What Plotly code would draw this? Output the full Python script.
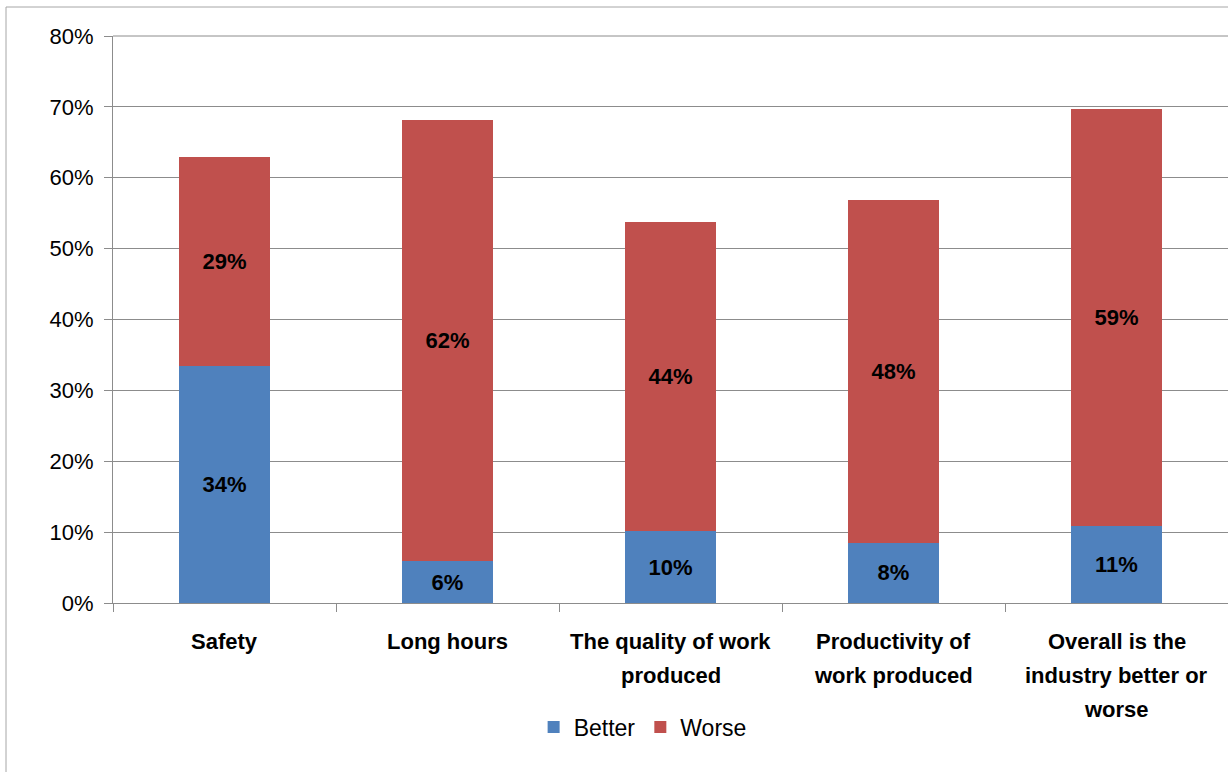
import plotly.graph_objects as go

categories = ["Safety", "Long hours", "The quality of work produced",
              "Productivity of work produced", "Overall is the industry better or worse"]
label_lines = [["Safety"], ["Long hours"], ["The quality of work", "produced"],
               ["Productivity of", "work produced"], ["Overall is the", "industry better or", "worse"]]
better = [33.5, 5.9, 10.1, 8.5, 10.9]
worse = [29.4, 62.2, 43.6, 48.3, 58.8]
better_labels = ["34%", "6%", "10%", "8%", "11%"]
worse_labels = ["29%", "62%", "44%", "48%", "59%"]
y_ticks = [0, 10, 20, 30, 40, 50, 60, 70, 80]
y_tick_text = [f"{v}%\u00a0" for v in y_ticks]

BLUE = "#4F81BD"
RED = "#C0504D"
FONT = "Liberation Sans, Arial, sans-serif"
GRID = "#8C8C8C"

fig = go.Figure()
for name, vals, labels, color in [("Better", better, better_labels, BLUE),
                                  ("Worse", worse, worse_labels, RED)]:
    fig.add_trace(go.Bar(name=name, x=categories, y=vals, text=labels,
                         marker_color=color, marker_line_width=0,
                         textposition="inside", insidetextanchor="middle",
                         textangle=0, constraintext="none",
                         textfont=dict(family=FONT, size=22, color="black", weight="bold")))

annotations = []
for cat, lines in zip(categories, label_lines):
    for i, line in enumerate(lines):
        annotations.append(dict(x=cat, xref="x", y=0, yref="paper", yanchor="middle",
                                yshift=-38 - 34 * i, text=line, showarrow=False,
                                font=dict(family=FONT, size=22, color="black", weight="bold")))

fig.update_layout(
    barmode="stack",
    bargap=0.596,
    width=1228, height=772,
    margin=dict(l=113, r=0, t=36, b=169),
    paper_bgcolor="white", plot_bgcolor="white",
    showlegend=True,
    legend=dict(orientation="h", x=0.475, xanchor="center", y=-0.219, yanchor="middle",
                font=dict(family=FONT, size=23, color="black"),
                traceorder="normal", itemwidth=30),
    annotations=annotations,
    shapes=[dict(type="rect", xref="paper", yref="paper",
                 x0=(6 - 113) / 1115, x1=1.05, y0=-0.5, y1=(603 - 7) / 567,
                 line=dict(color="#A6A6A6", width=1), fillcolor="rgba(0,0,0,0)", layer="below"),
            dict(type="line", xref="paper", yref="paper", x0=0, x1=1, y0=1, y1=1,
                 line=dict(color=GRID, width=1), layer="below")],
)
fig.update_yaxes(range=[0, 80], tickmode="array", tickvals=y_ticks, ticktext=y_tick_text,
                 showgrid=True, gridcolor=GRID, gridwidth=1,
                 showline=True, linecolor=GRID, linewidth=1,
                 ticks="outside", ticklen=8, tickcolor=GRID,
                 tickfont=dict(family=FONT, size=22, color="black"),
                 zeroline=False)
fig.update_xaxes(showticklabels=False, showgrid=False,
                 showline=True, linecolor=GRID, linewidth=1,
                 ticks="outside", ticklen=8, tickcolor=GRID, tickson="boundaries")

fig.write_html("out.html", config={"displayModeBar": False},
               post_script="document.body.style.margin='0';")
